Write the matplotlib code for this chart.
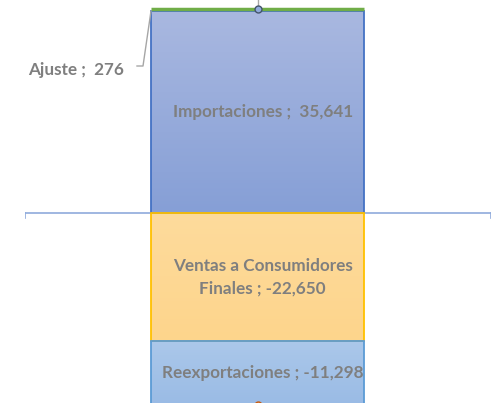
import matplotlib.pyplot as plt
import numpy as np
from matplotlib.patches import Rectangle

# data (miles)
categorias = ["Importaciones", "Ajuste", "Ventas a Consumidores\nFinales", "Reexportaciones"]
valores = [35641, 276, -22650, -11298]
etiquetas = ["Importaciones ;  35,641", "Ajuste ;  276",
             "Ventas a Consumidores\nFinales ; -22,650", "Reexportaciones ; -11,298"]

fill_top = ["#a9b8e0", "#70ad47", "#fedb9c", "#abc8ea"]
fill_bot = ["#869fd6", "#70ad47", "#fdd58c", "#9abbe5"]
bordes = ["#4472c4", "#70ad47", "#ffc000", "#5b9bd5"]

plt.rcParams['font.family'] = ['Lato', 'DejaVu Sans']

fig = plt.figure(figsize=(5.02, 4.03), dpi=100)
ax = fig.add_axes([25 / 502, 0, 466 / 502, 1])
ax.set_xlim(-0.5, 0.5)
ax.set_ylim(-33533, 37592)
ax.axis('off')


def px(x, y):
    # pixel de la figura -> datos
    return (x - 25) / 466 - 0.5, 37592 - y * (37592 + 33533) / 403


ancho = 213 / 466
pos_base = 0
neg_base = 0
for i, v in enumerate(valores):
    if v >= 0:
        y0 = pos_base
        pos_base += v
    else:
        y0 = neg_base + v
        neg_base += v
    h = abs(v)
    if categorias[i] == "Ajuste":
        ax.plot([-ancho / 2, ancho / 2], [y0 + h, y0 + h], color=bordes[i], lw=2.5,
                solid_capstyle='butt', zorder=4)
        continue
    rect = Rectangle((-ancho / 2, y0), ancho, h, facecolor='none',
                     edgecolor=bordes[i], lw=1.3, zorder=3)
    ax.add_patch(rect)
    grad = np.linspace(0, 1, 100).reshape(-1, 1)
    c1 = np.array(plt.matplotlib.colors.to_rgb(fill_top[i]))
    c2 = np.array(plt.matplotlib.colors.to_rgb(fill_bot[i]))
    img = c1 + (c2 - c1) * grad[:, :, None]
    im = ax.imshow(img, extent=(-ancho / 2, ancho / 2, y0, y0 + h), origin='upper',
                   aspect='auto', zorder=2)
    im.set_clip_path(rect)
    ax.text(0.01, y0 + h / 2, etiquetas[i], ha='center', va='center',
            fontsize=12.3, fontweight='bold', color='#7f7f7f', zorder=5,
            linespacing=1.5)

# eje horizontal
ax.plot([-0.5, 0.5], [0, 0], color='#8faadc', lw=1.2, zorder=1)
ax.plot([-0.5, -0.5], [0, -900], color='#8faadc', lw=1.2)
ax.plot([0.5, 0.5], [0, -900], color='#8faadc', lw=1.2)

# marcadores de total
top = valores[0] + valores[1]
ax.plot([0.001, 0.001], [top, 37592], color='#a6a6a6', lw=1, zorder=5)
ax.plot(0.001, top, 'o', ms=5, mfc='#8faadc', mec='#44546a', mew=1, zorder=6)
bot = valores[2] + valores[3]
ax.plot(0.001, bot, 'o', ms=5, mfc='#f4b183', mec='#c55a11', mew=1, zorder=6,
        clip_on=False)

# etiqueta Ajuste con linea guia
tx, ty = px(124, 70)
ax.text(tx, ty, etiquetas[1], ha='right', va='center',
        fontsize=12.3, fontweight='bold', color='#7f7f7f')
guia = [px(137, 66), px(143, 66), px(151, 11)]
ax.plot([p[0] for p in guia], [p[1] for p in guia], color='#a6a6a6', lw=1, zorder=5)

fig.savefig('out.png', dpi=100)
